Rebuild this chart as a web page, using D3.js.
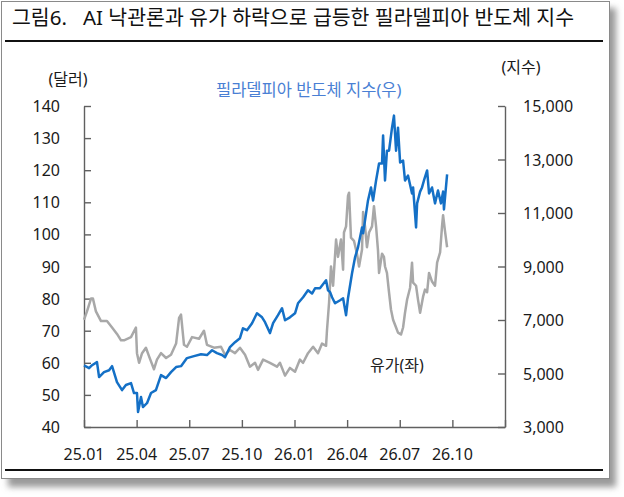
<!DOCTYPE html>
<html lang="ko">
<head>
<meta charset="utf-8">
<title>그림6. AI 낙관론과 유가 하락으로 급등한 필라델피아 반도체 지수</title>
<script src="https://cdn.jsdelivr.net/npm/d3@7"></script>
<style>
  html, body { margin: 0; padding: 0; background: #fff; }
  svg { display: block; font-family: "Noto Sans", "Noto Sans CJK KR", sans-serif; }
  .tick-lbl { font-size: 16px; fill: #1a1a1a; }
</style>
</head>
<body>
<div id="chart"></div>
<script>
/* =============================================================================
   Dual-axis line chart: WTI oil (left, $) vs Philadelphia Semiconductor index
   (right). x is months since 25.01.
   ========================================================================== */

// x tick labels, one per quarter (month offsets 0, 3, ... 21)
var quarterLabels = ["25.01", "25.04", "25.07", "25.10", "26.01", "26.04", "26.07", "26.10"];
var leftTicks = [40, 50, 60, 70, 80, 90, 100, 110, 120, 130, 140];
var rightTicks = [3000, 5000, 7000, 9000, 11000, 13000, 15000];

// Philadelphia semiconductor index (right axis)
var soxMonth = [0.00, 0.29, 0.46, 0.74, 0.86, 1.14, 1.43, 1.60, 1.88, 2.17, 2.39, 2.68, 2.85, 3.02, 3.08,
  3.25, 3.36, 3.59, 3.82, 4.10, 4.39, 4.68, 4.96, 5.25, 5.53, 5.87, 6.27, 6.67, 7.01, 7.30, 7.58, 7.87,
  8.04, 8.32, 8.61, 8.89, 9.06, 9.29, 9.58, 9.86, 10.15, 10.32, 10.60, 10.78, 11.06, 11.29, 11.46, 11.74,
  12.03, 12.20, 12.49, 12.77, 13.00, 13.17, 13.45, 13.80, 13.91, 14.03, 14.14, 14.31, 14.60, 14.77, 14.94,
  15.05, 15.28, 15.45, 15.62, 15.85, 15.91, 16.08, 16.19, 16.36, 16.48, 16.65, 16.82, 16.99, 17.05, 17.16,
  17.27, 17.39, 17.56, 17.67, 17.79, 17.90, 18.02, 18.19, 18.30, 18.47, 18.70, 18.76, 18.93, 18.99, 19.16,
  19.27, 19.38, 19.56, 19.67, 19.84, 20.01, 20.18, 20.35, 20.47, 20.52, 20.70];
var soxValue = [5300, 5200, 5310, 5425, 4865, 5050, 5120, 5275, 4680, 4380, 4570, 4640, 4270, 4270, 3560,
  4120, 3745, 3890, 4270, 4380, 4940, 4830, 5050, 5240, 5275, 5575, 5650, 5720, 5690, 5870, 5760, 5690,
  5610, 5985, 6170, 6320, 6690, 6620, 6880, 7250, 7100, 6920, 6510, 6880, 7180, 7440, 6990, 7100,
  7250, 7625, 7850, 8110, 7990, 8185, 8185, 8485, 8110, 8040, 7850, 7625, 7740, 7815, 7180,
  7815, 8750, 9340, 9715, 10460, 10240, 10985, 11470, 11955, 11470, 12215, 12850, 12850, 13900, 12215,
  13330, 13330, 14190, 14640, 13330, 14190, 12890, 12960, 12215, 12400, 11730, 11955, 10460, 11360, 11800,
  11955, 12215, 12590, 11730, 11955, 11360, 11840, 11360, 11800, 11135, 12440];

// oil price, $ (left axis)
var oilMonth = [0.00, 0.17, 0.40, 0.51, 0.68, 0.97, 1.31, 1.60, 1.88, 2.11, 2.28, 2.68, 2.96, 3.02, 3.14,
  3.31, 3.53, 3.71, 3.99, 4.16, 4.39, 4.68, 4.96, 5.25, 5.42, 5.53, 5.70, 5.87, 6.16, 6.56, 6.84, 7.01,
  7.41, 7.81, 8.04, 8.32, 8.61, 8.89, 9.18, 9.46, 9.75, 9.92, 10.21, 10.60, 11.00, 11.17, 11.46, 11.74,
  12.03, 12.31, 12.49, 12.77, 13.06, 13.34, 13.57, 13.80, 13.85, 13.97, 14.08, 14.20, 14.37, 14.48, 14.65,
  14.77, 14.82, 14.94, 15.05, 15.11, 15.22, 15.39, 15.56, 15.68, 15.85, 15.91, 16.02, 16.13, 16.25, 16.42,
  16.53, 16.65, 16.76, 16.82, 16.99, 17.10, 17.16, 17.27, 17.39, 17.50, 17.62, 17.79, 17.90, 18.07, 18.19,
  18.30, 18.42, 18.59, 18.70, 18.76, 18.93, 19.04, 19.16, 19.33, 19.44, 19.56, 19.67, 19.84, 20.01, 20.13,
  20.30, 20.41, 20.47, 20.58, 20.70];
var oilValue = [73.4, 76, 80, 80, 76, 73, 73, 71, 69, 67, 67, 68, 71, 63, 60,
  63, 64.7, 62, 58, 61, 63, 61.5, 62.5, 66, 74, 75, 65.6, 65, 68, 67.5, 70, 65.6,
  64.7, 65, 62.5, 64, 63, 64.7, 62.5, 58.8, 60, 57.8, 61, 60, 58.8, 60, 56, 58.4,
  57.2, 61, 60, 63, 65, 63, 66, 65.3, 70, 78.7, 90, 84, 98.4, 93, 98.4,
  89, 100.6, 102.5, 112, 113, 99, 98, 94, 90, 95.3, 107, 102.5, 96, 100.6, 102.5,
  108.8, 102.5, 95, 88, 94, 93, 90, 88, 81.9, 76.6, 73.4, 71, 69.4, 68.8, 71,
  75.6, 79.7, 83.4, 91.2, 85, 84, 79.7, 75.6, 80.6, 82.8, 82, 88, 85.3, 84, 91.2,
  94.4, 102.5, 106, 101, 96];

(function () {
  "use strict";

  var W = 624, H = 497;
  var L = 84, R = 505, T = 106, B = 427;
  var BLUE = "#1470c6", GRAY = "#a8a8a8", AXIS = "#606060";

  var svg = d3.select("#chart").append("svg")
    .attr("width", W).attr("height", H)
    .attr("viewBox", "0 0 " + W + " " + H);

  /* frame with soft drop shadow */
  var defs = svg.append("defs");
  defs.append("filter").attr("id", "shadow").attr("x", "-5%").attr("y", "-5%").attr("width", "115%").attr("height", "115%")
    .append("feGaussianBlur").attr("stdDeviation", 3);
  svg.append("rect").attr("x", 8).attr("y", 8).attr("width", 608).attr("height", 479)
    .attr("fill", "#9a9a9a").attr("filter", "url(#shadow)");
  svg.append("rect").attr("x", 1.5).attr("y", 1.5).attr("width", 608).attr("height", 477)
    .attr("fill", "#fff").attr("stroke", "#8a8a8a").attr("stroke-width", 1);

  /* title + rules */
  svg.append("text").attr("x", 12).attr("y", 25)
    .attr("font-size", 20.5).attr("fill", "#111")
    .attr("xml:space", "preserve")
    .text("그림6.   AI 낙관론과 유가 하락으로 급등한 필라델피아 반도체 지수");
  svg.append("line").attr("x1", 5).attr("x2", 603).attr("y1", 41).attr("y2", 41)
    .attr("stroke", "#111").attr("stroke-width", 2);
  svg.append("line").attr("x1", 5).attr("x2", 603).attr("y1", 470).attr("y2", 470)
    .attr("stroke", "#111").attr("stroke-width", 2);

  /* scales */
  var x = d3.scaleLinear().domain([0, 24]).range([L, R]);
  var yL = d3.scaleLinear().domain([40, 140]).range([B, T]);
  var yR = d3.scaleLinear().domain([3000, 15000]).range([B, T]);

  /* axes: ticks point inward, labels drawn separately for spacing control */
  var gx = svg.append("g").attr("transform", "translate(0," + B + ")")
    .call(d3.axisTop(x).tickValues(d3.range(0, 25, 3)).tickSize(7).tickSizeOuter(0).tickFormat(""));
  var gl = svg.append("g").attr("transform", "translate(" + L + ",0)")
    .call(d3.axisRight(yL).tickValues(leftTicks).tickSize(7).tickSizeOuter(0).tickFormat(""));
  var gr = svg.append("g").attr("transform", "translate(" + R + ",0)")
    .call(d3.axisLeft(yR).tickValues(rightTicks).tickSize(7).tickSizeOuter(0).tickFormat(""));
  [gx, gl, gr].forEach(function (g) {
    g.selectAll("path, line").attr("stroke", AXIS).attr("stroke-width", 1.4);
  });

  svg.append("g").selectAll("text").data(quarterLabels).enter().append("text")
    .attr("class", "tick-lbl")
    .attr("x", function (d, i) { return x(i * 3); })
    .attr("y", 460).attr("text-anchor", "middle")
    .text(function (d) { return d; });
  svg.append("g").selectAll("text").data(leftTicks).enter().append("text")
    .attr("class", "tick-lbl")
    .attr("x", 60).attr("y", function (d) { return yL(d) + 6; })
    .attr("text-anchor", "end")
    .text(function (d) { return d; });
  svg.append("g").selectAll("text").data(rightTicks).enter().append("text")
    .attr("class", "tick-lbl")
    .attr("x", 523).attr("y", function (d) { return yR(d) + 6; })
    .text(d3.format(","));

  svg.append("text").attr("class", "tick-lbl").attr("x", 68).attr("y", 85)
    .attr("text-anchor", "middle").text("(달러)");
  svg.append("text").attr("class", "tick-lbl").attr("x", 521).attr("y", 73)
    .attr("text-anchor", "middle").text("(지수)");

  /* series: oil under, index on top */
  var oil = oilMonth.map(function (m, i) { return [m, oilValue[i]]; });
  var sox = soxMonth.map(function (m, i) { return [m, soxValue[i]]; });

  svg.append("path").datum(oil)
    .attr("fill", "none").attr("stroke", GRAY).attr("stroke-width", 2.5).attr("stroke-linejoin", "round")
    .attr("d", d3.line().x(function (d) { return x(d[0]); }).y(function (d) { return yL(d[1]); }));
  svg.append("path").datum(sox)
    .attr("fill", "none").attr("stroke", BLUE).attr("stroke-width", 2.5).attr("stroke-linejoin", "round")
    .attr("d", d3.line().x(function (d) { return x(d[0]); }).y(function (d) { return yR(d[1]); }));

  /* series labels */
  svg.append("text").attr("x", 216).attr("y", 96)
    .attr("font-size", 16.5).attr("fill", "#4a7fd4")
    .text("필라델피아 반도체 지수(우)");
  svg.append("text").attr("x", 370).attr("y", 371)
    .attr("font-size", 16).attr("fill", "#222")
    .text("유가(좌)");
})();
</script>
</body>
</html>
